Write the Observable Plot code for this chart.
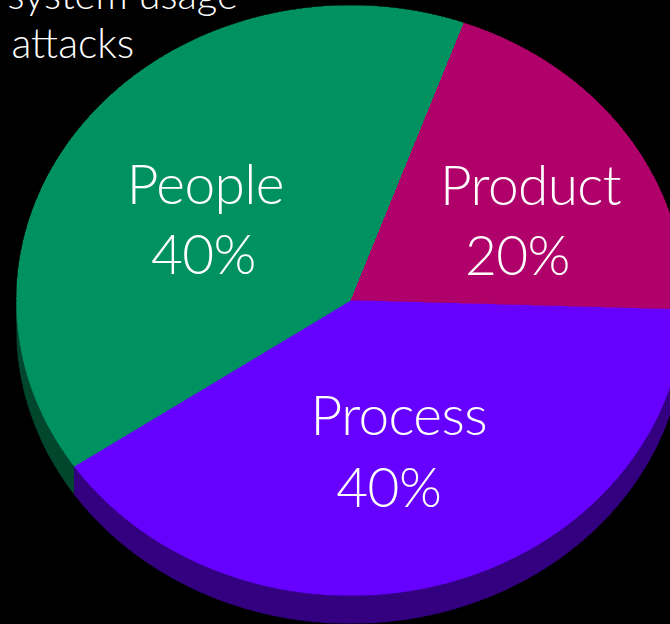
<!DOCTYPE html>
<html>
<head>
<meta charset="utf-8">
<script src="https://cdn.jsdelivr.net/npm/d3@7"></script>
<script src="https://cdn.jsdelivr.net/npm/@observablehq/plot@0.6"></script>
<style>
html, body { margin: 0; padding: 0; background: #000; overflow: hidden; }
#chart svg { display: block; }
#chart svg text.lbl { letter-spacing: -0.5px; }
</style>
</head>
<body>
<div id="chart"></div>
<script>
// ---- data ----
const categories = ["Product", "Process", "People"];
const shares = [20, 40, 40];
const percentLabels = ["20%", "40%", "40%"];
const topColors = ["#b0006a", "#6600ff", "#009160"];
const sideColors = ["#58003a", "#330080", "#00472e"];
const titleLines = ["system usage", "attacks"];

// ---- layout (not data) ----
const W = 670, H = 624;
const CX = 350, CY = 300, RX = 334, RY = 295, DEPTH = 28;
const START = -70.2; // degrees, screen clockwise from +x
const LABEL_R = 0.55;
// per-label pixel offsets relative to slice centroid: [nameDx, nameDy, pctDx, pctDy]
const labelOffsets = {
  Product: [28, -4, 15, 66],
  Process: [-3, -21, -13, 51],
  People: [0, 3, -2, 73]
};

const total = d3.sum(shares);
const rad = a => a * Math.PI / 180;
const slices = [];
let acc = START;
categories.forEach((c, i) => {
  const span = shares[i] / total * 360;
  slices.push({key: c, a0: acc, a1: acc + span, i});
  acc += span;
});

function arc(a0, a1, dy = 0) {
  const pts = [];
  const n = Math.max(2, Math.ceil(Math.abs(a1 - a0) / 0.5));
  for (let k = 0; k <= n; k++) {
    const a = rad(a0 + (a1 - a0) * k / n);
    pts.push([Math.cos(a), Math.sin(a) + dy]);
  }
  return pts;
}

const depthU = DEPTH / RY;
const sides = [];
const tops = [];
slices.forEach(s => {
  const b0 = Math.max(s.a0, 0), b1 = Math.min(s.a1, 180);
  if (b0 < b1) {
    const poly = arc(b0, b1).concat(arc(b1, b0, depthU));
    poly.forEach(([x, y]) => sides.push({key: s.key, x, y, color: sideColors[s.i]}));
  }
  const poly = [[0, 0]].concat(arc(s.a0, s.a1));
  poly.forEach(([x, y]) => tops.push({key: s.key, x, y, color: topColors[s.i]}));
});

const names = [], pcts = [];
slices.forEach(s => {
  const m = rad((s.a0 + s.a1) / 2);
  const bx = LABEL_R * Math.cos(m), by = LABEL_R * Math.sin(m);
  const o = labelOffsets[s.key];
  names.push({text: s.key, x: bx + o[0] / RX, y: by + o[1] / RY});
  pcts.push({text: percentLabels[s.i], x: bx + o[2] / RX, y: by + o[3] / RY});
});

const font = "Lato, 'Open Sans', sans-serif";

const chart = Plot.plot({
  width: W,
  height: H,
  margin: 0,
  x: {domain: [-CX / RX, (W - CX) / RX], range: [0, W], axis: null},
  y: {domain: [-CY / RY, (H - CY) / RY], range: [0, H], axis: null},
  color: {type: "identity"},
  style: {background: "black", color: "white"},
  marks: [
    Plot.line(sides, {x: "x", y: "y", z: "key", fill: "color", stroke: "color", strokeWidth: 0.6, curve: "linear", shapeRendering: "crispEdges"}),
    Plot.line(tops, {x: "x", y: "y", z: "key", fill: "color", stroke: "color", strokeWidth: 0.6, curve: "linear", shapeRendering: "crispEdges"}),
    Plot.text(names, {x: "x", y: "y", text: "text", fill: "white", fontSize: 55, fontFamily: font, fontWeight: 300, textAnchor: "middle", lineAnchor: "bottom", className: "lbl"}),
    Plot.text(pcts, {x: "x", y: "y", text: "text", fill: "white", fontSize: 55, fontFamily: font, fontWeight: 300, textAnchor: "middle", lineAnchor: "bottom", className: "lbl"}),
    Plot.text([titleLines[0]], {frameAnchor: "top-left", text: d => d, dx: 7, dy: 8, fill: "white", fontSize: 40, fontFamily: font, fontWeight: 300, textAnchor: "start", lineAnchor: "bottom"}),
    Plot.text([titleLines[1]], {frameAnchor: "top-left", text: d => d, dx: 11, dy: 57, fill: "white", fontSize: 41, fontFamily: font, fontWeight: 300, textAnchor: "start", lineAnchor: "bottom"})
  ]
});
chart.querySelectorAll("g.lbl text, text.lbl").forEach(t => t.style.letterSpacing = "-0.6px");
document.getElementById("chart").appendChild(chart);
</script>
</body>
</html>
